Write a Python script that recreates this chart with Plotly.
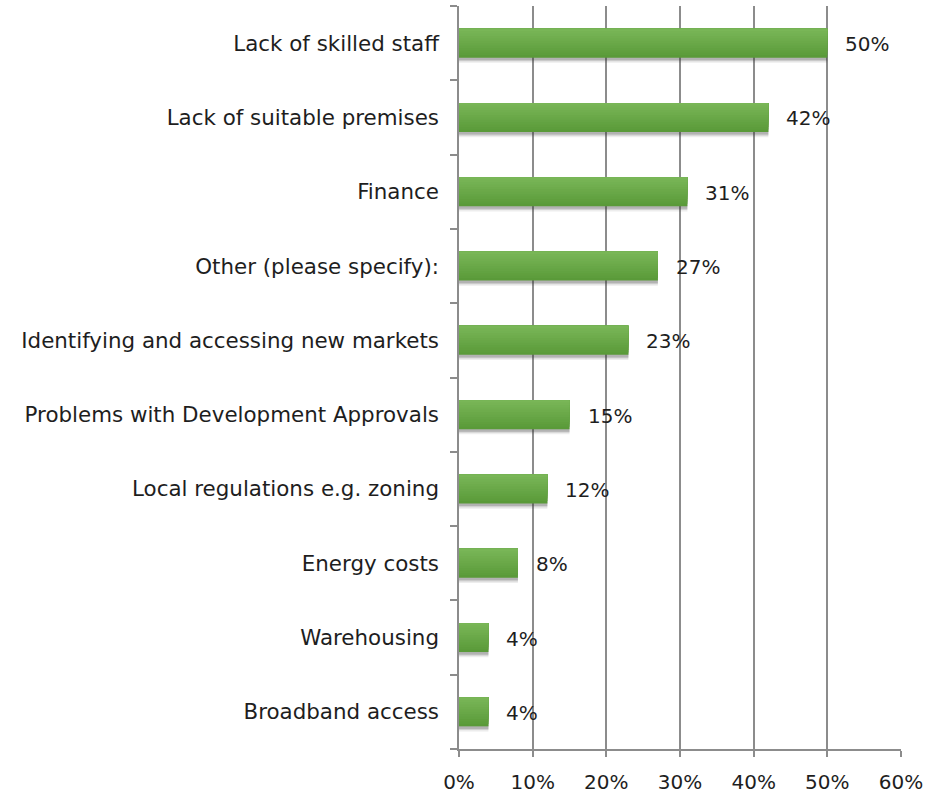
import plotly.graph_objects as go

categories = [
    "Lack of skilled staff",
    "Lack of suitable premises",
    "Finance",
    "Other (please specify):",
    "Identifying and accessing new markets",
    "Problems with Development Approvals",
    "Local regulations e.g. zoning",
    "Energy costs",
    "Warehousing",
    "Broadband access",
]
shares = [0.50, 0.42, 0.31, 0.27, 0.23, 0.15, 0.12, 0.08, 0.04, 0.04]
x_ticks = [0, 0.1, 0.2, 0.3, 0.4, 0.5, 0.6]
x_tick_labels = ["0%", "10%", "20%", "30%", "40%", "50%", "60%"]

FONT = "DejaVu Sans"
TEXT_COLOR = "#1e1e1e"
GRID = "#8c8c8c"
BAR_W = 0.39

fig = go.Figure()

# soft drop shadow just below each bar
for dy, alpha in [(0.07, 0.09), (0.05, 0.14), (0.035, 0.2)]:
    fig.add_trace(go.Bar(
        y=categories, x=shares, orientation="h",
        marker=dict(color=f"rgba(50,50,50,{alpha})", line=dict(width=0)),
        width=BAR_W, offset=-BAR_W / 2 - dy,
        hoverinfo="skip", showlegend=False,
    ))

# vertical shading: lighter green on top, darker toward the bottom
dark = (0x5a, 0x9a, 0x39)
light = (0x79, 0xb6, 0x57)
n = 12
for i in range(n):
    t = i / (n - 1)
    col = "rgb({},{},{})".format(*[round(d + (l - d) * t) for d, l in zip(dark, light)])
    h = BAR_W * (n - i) / n
    fig.add_trace(go.Bar(
        y=categories, x=shares, orientation="h",
        marker=dict(color=col, line=dict(width=0)),
        width=h, offset=BAR_W / 2 - h,
        hoverinfo="skip" if i else None, showlegend=False,
    ))

for cat, v in zip(categories, shares):
    fig.add_annotation(
        x=v, y=cat, text=f"{v:.0%}", showarrow=False,
        xanchor="left", xshift=16, yshift=-1,
        font=dict(family=FONT, size=20, color=TEXT_COLOR),
    )

fig.update_layout(
    width=935, height=799,
    margin=dict(l=459, r=34, t=6, b=50),
    plot_bgcolor="white", paper_bgcolor="white",
    barmode="overlay",
    font=dict(family=FONT, size=20, color=TEXT_COLOR),
    xaxis=dict(
        range=[0, 0.6], tickvals=x_ticks, ticktext=x_tick_labels,
        showgrid=True, gridcolor=GRID, gridwidth=1.5,
        showline=True, linecolor=GRID, linewidth=1.5,
        ticks="outside", ticklen=6, tickcolor=GRID, tickwidth=1.5,
        zeroline=False, ticklabelstandoff=8, automargin=False,
        tickfont=dict(family=FONT, size=20, color=TEXT_COLOR),
    ),
    yaxis=dict(
        categoryorder="array", categoryarray=categories[::-1],
        showline=True, linecolor=GRID, linewidth=1.5,
        ticks="outside", tickson="boundaries", ticklen=7,
        tickcolor=GRID, tickwidth=1.5, showgrid=False,
        ticklabelstandoff=14, automargin=False,
        tickfont=dict(family=FONT, size=21.4, color=TEXT_COLOR),
    ),
)

fig.write_html("out.html")
